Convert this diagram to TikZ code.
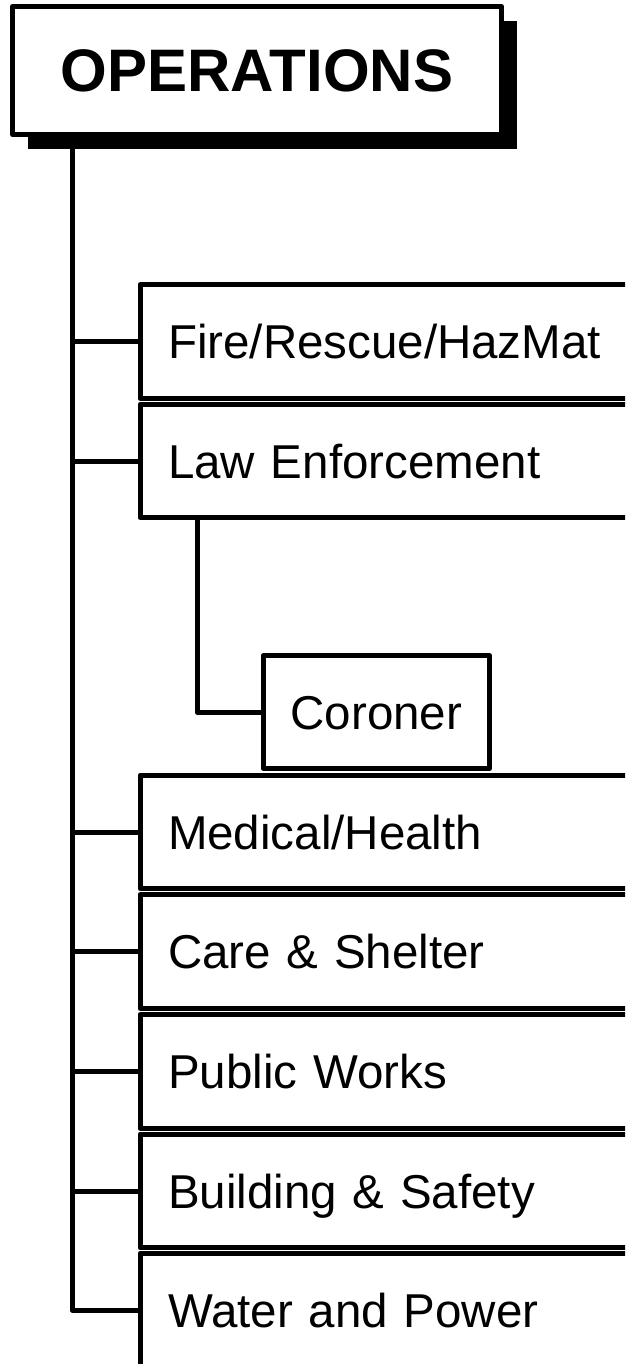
\documentclass[tikz,border=0pt]{standalone}
\usepackage{fontspec}
\setmainfont{Liberation Sans}
\usetikzlibrary{shadows}
\begin{document}
\begin{tikzpicture}[x=1pt,y=-1pt,
  line width=5pt, line join=round,
  opsbox/.style={draw, fill=white, rectangle, outer sep=0pt,
    minimum width=489pt, minimum height=128pt, inner sep=0pt,
    text height=43pt, text depth=0pt,
    font=\fontsize{60}{64}\selectfont\bfseries,
    drop shadow={shadow xshift=15pt, shadow yshift=-15pt, opacity=1, fill=black}},
  brbox/.style={draw, fill=white, rectangle, outer sep=0pt, anchor=west,
    minimum height=113.5pt, text width=560pt, inner xsep=28pt, inner ysep=0pt,
    text height=34pt, text depth=0pt, align=left,
    font=\fontsize{47.5}{50}\selectfont},
  subbox/.style={draw, fill=white, rectangle, outer sep=0pt,
    minimum width=226pt, minimum height=113pt, inner sep=0pt,
    text height=34pt, text depth=0pt,
    font=\fontsize{47.5}{50}\selectfont},
  link/.style={draw, line width=5pt}]
\useasboundingbox (0,0) rectangle (625,1364);
\clip (0,0) rectangle (625,1364);

\node[opsbox] (ops) at (257,70.5) {OPERATIONS};

\node[brbox] (fire) at (140,341.5) {Fire/Rescue/HazMat};
\node[brbox] (law) at (140,461) {Law Enforcement};
\node[subbox] (cor) at (376.4,712) {Coroner};
\node[brbox] (med) at (140,832) {Medical/Health};
\node[brbox] (care) at (140,951.5) {Care \& Shelter};
\node[brbox] (pub) at (140,1071.5) {Public Works};
\node[brbox] (bld) at (140,1191) {Building \& Safety};
\node[brbox] (wat) at (140,1310) {Water and Power};

\coordinate (t) at ([xshift=59.5pt]ops.south west);
\draw[link] (t) |- (wat.west);
\foreach \b in {fire,law,med,care,pub,bld}
  \draw[link] (\b.west) -- (\b.west -| t);
\draw[link] ([xshift=57pt]law.south west) |- (cor.west);
\end{tikzpicture}
\end{document}
